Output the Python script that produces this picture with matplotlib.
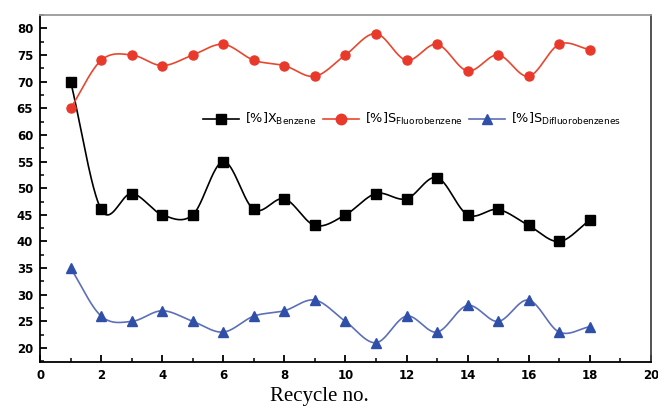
import numpy as np
import matplotlib
matplotlib.use("Agg")
import matplotlib.pyplot as plt
from matplotlib.ticker import MultipleLocator

cycles = [1, 2, 3, 4, 5, 6, 7, 8, 9, 10, 11, 12, 13, 14, 15, 16, 17, 18]
x_benzene = [70, 46, 49, 45, 45, 55, 46, 48, 43, 45, 49, 48, 52, 45, 46, 43, 40, 44]
s_fluoro = [65, 74, 75, 73, 75, 77, 74, 73, 71, 75, 79, 74, 77, 72, 75, 71, 77, 76]
s_difluoro = [35, 26, 25, 27, 25, 23, 26, 27, 29, 25, 21, 26, 23, 28, 25, 29, 23, 24]
x_ticks = [0, 2, 4, 6, 8, 10, 12, 14, 16, 18, 20]
y_ticks = [20, 25, 30, 35, 40, 45, 50, 55, 60, 65, 70, 75, 80]


def smooth(xs, ys, n=40):
    """Catmull-Rom curve through the data points (line rendering only)."""
    xs = np.asarray(xs, float)
    ys = np.asarray(ys, float)
    px = np.concatenate([[2 * xs[0] - xs[1]], xs, [2 * xs[-1] - xs[-2]]])
    py = np.concatenate([[2 * ys[0] - ys[1]], ys, [2 * ys[-1] - ys[-2]]])
    ox, oy = [], []
    t = np.linspace(0, 1, n, endpoint=False)
    for i in range(1, len(px) - 2):
        for P, O in ((px, ox), (py, oy)):
            p0, p1, p2, p3 = P[i - 1], P[i], P[i + 1], P[i + 2]
            v = 0.5 * (2 * p1 + (-p0 + p2) * t
                       + (2 * p0 - 5 * p1 + 4 * p2 - p3) * t ** 2
                       + (-p0 + 3 * p1 - 3 * p2 + p3) * t ** 3)
            O.extend(v)
    ox.append(xs[-1])
    oy.append(ys[-1])
    return np.array(ox), np.array(oy)


fig = plt.figure(figsize=(6.58, 4.16), dpi=100)
ax = fig.add_axes([0.061, 0.130, 0.928, 0.834])

series = [
    (x_benzene, "black", "black", "s", r"[%]X$_{\mathrm{Benzene}}$"),
    (s_fluoro, "#e8472f", "#e8392a", "o", r"[%]S$_{\mathrm{Fluorobenzene}}$"),
    (s_difluoro, "#5d6fb8", "#2f4fa8", "^", r"[%]S$_{\mathrm{Difluorobenzenes}}$"),
]
handles = []
for ys, lc, mc, mk, lab in series:
    sx, sy = smooth(cycles, ys)
    ax.plot(sx, sy, color=lc, lw=1.2, zorder=2)
    ax.plot(cycles, ys, ls="none", marker=mk, ms=6.5, color=mc, zorder=3)
    h, = ax.plot([], [], color=lc, lw=1.2, marker=mk, ms=7.5, mfc=mc, mec=mc, label=lab)
    handles.append(h)

ax.set_xlim(0, 20)
ax.set_ylim(17.4, 82.5)
ax.set_xticks(x_ticks)
ax.set_yticks(y_ticks)
ax.xaxis.set_minor_locator(MultipleLocator(1))
ax.yaxis.set_minor_locator(MultipleLocator(2.5))
ax.tick_params(which="both", direction="in", top=False, right=False)
ax.tick_params(which="major", length=5, width=1.3, pad=5)
ax.tick_params(which="minor", length=3, width=1.1)
for lbl in ax.get_xticklabels() + ax.get_yticklabels():
    lbl.set_fontweight("bold")
    lbl.set_fontsize(8.5)
    lbl.set_fontfamily("DejaVu Sans")
for s in ax.spines.values():
    s.set_linewidth(1.3)
ax.spines["top"].set_color("#999999")
ax.spines["right"].set_color("#444444")

ax.set_xlabel("Recycle no.", fontfamily="Liberation Serif", fontsize=15)
ax.xaxis.set_label_coords(0.458, -0.10)
ax.xaxis.label.set_verticalalignment("center")

ax.legend(handles=handles, loc="center left", bbox_to_anchor=(0.267, 0.70),
          ncol=3, frameon=False, fontsize=9.2, handlelength=2.8,
          columnspacing=0.5, handletextpad=0.5, borderaxespad=0, borderpad=0)

fig.savefig("out.png", dpi=100)
